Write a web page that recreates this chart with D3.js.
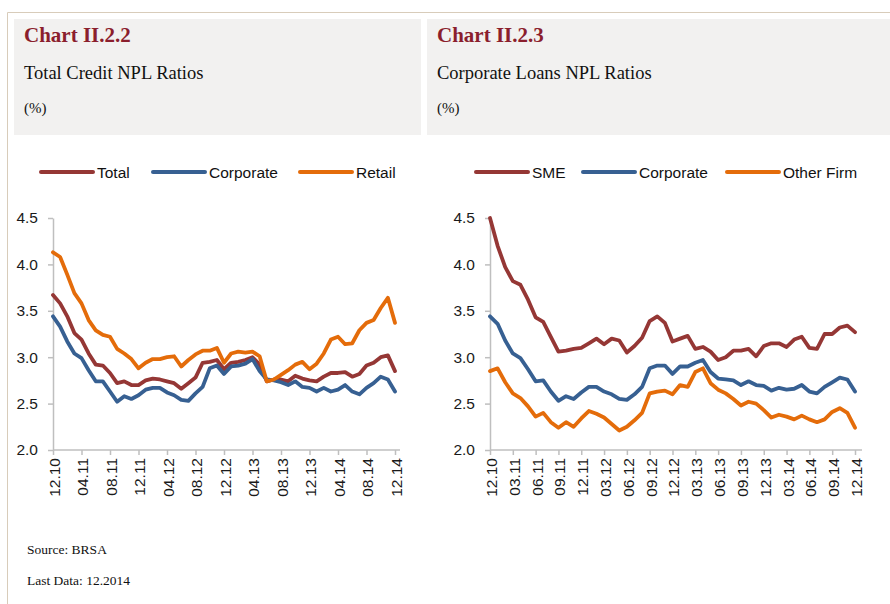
<!DOCTYPE html>
<html>
<head>
<meta charset="utf-8">
<script src="https://cdn.jsdelivr.net/npm/d3@7"></script>
<style>
  body { margin: 0; background: #fff; }
  svg { display: block; }
  .axis text { font-family: "Liberation Sans", Arial, sans-serif; font-size: 15.5px; fill: #1a1a1a; }
  .axis path, .axis line { stroke: #bfbfbf; stroke-width: 1.5px; }
</style>
</head>
<body>
<div id="chart"></div>
<script>
// monthly categories 12.2010 - 12.2014
const months = [
  '12.10',
  '01.11','02.11','03.11','04.11','05.11','06.11','07.11','08.11','09.11','10.11','11.11','12.11',
  '01.12','02.12','03.12','04.12','05.12','06.12','07.12','08.12','09.12','10.12','11.12','12.12',
  '01.13','02.13','03.13','04.13','05.13','06.13','07.13','08.13','09.13','10.13','11.13','12.13',
  '01.14','02.14','03.14','04.14','05.14','06.14','07.14','08.14','09.14','10.14','11.14','12.14'
];

const ticksLeft = ['12.10','04.11','08.11','12.11','04.12','08.12','12.12','04.13','08.13','12.13','04.14','08.14','12.14'];
const ticksRight = ['12.10','03.11','06.11','09.11','12.11','03.12','06.12','09.12','12.12','03.13','06.13','09.13','12.13','03.14','06.14','09.14','12.14'];
const yTicks = [2.0, 2.5, 3.0, 3.5, 4.0, 4.5];

// Chart II.2.2 - Total credit NPL ratios (%)
const totalNpl = [3.67,3.58,3.44,3.26,3.19,3.04,2.92,2.91,2.83,2.72,2.74,2.70,2.70,2.75,2.77,2.76,2.74,2.72,2.66,2.72,2.78,2.94,2.95,2.97,2.87,2.94,2.95,2.97,3.00,2.92,2.74,2.76,2.76,2.74,2.80,2.77,2.75,2.74,2.79,2.83,2.83,2.84,2.79,2.82,2.91,2.94,3.00,3.02,2.85];
const corporateNpl = [3.44,3.33,3.17,3.04,2.99,2.86,2.74,2.74,2.63,2.52,2.58,2.55,2.59,2.65,2.67,2.67,2.62,2.59,2.54,2.53,2.61,2.68,2.88,2.91,2.82,2.90,2.91,2.93,2.98,2.85,2.76,2.75,2.73,2.70,2.74,2.68,2.67,2.63,2.67,2.63,2.65,2.70,2.63,2.60,2.67,2.72,2.79,2.76,2.63];
const retailNpl = [4.13,4.08,3.89,3.69,3.58,3.40,3.29,3.24,3.22,3.09,3.04,2.98,2.88,2.94,2.98,2.98,3.00,3.01,2.90,2.97,3.03,3.07,3.07,3.10,2.94,3.04,3.06,3.05,3.06,3.01,2.74,2.76,2.81,2.86,2.92,2.95,2.87,2.93,3.04,3.19,3.22,3.14,3.15,3.29,3.37,3.40,3.53,3.64,3.37];

// Chart II.2.3 - Corporate loans NPL ratios (%)
const smeNpl = [4.50,4.20,3.97,3.82,3.78,3.62,3.43,3.38,3.22,3.06,3.07,3.09,3.10,3.15,3.20,3.14,3.20,3.18,3.05,3.12,3.21,3.39,3.44,3.37,3.17,3.20,3.23,3.09,3.11,3.06,2.97,3.00,3.07,3.07,3.09,3.01,3.12,3.15,3.15,3.11,3.19,3.22,3.10,3.09,3.25,3.25,3.32,3.34,3.27];
const corpLoansNpl = [3.44,3.36,3.18,3.04,2.99,2.87,2.74,2.75,2.63,2.53,2.58,2.55,2.62,2.68,2.68,2.63,2.60,2.55,2.54,2.60,2.68,2.88,2.91,2.91,2.82,2.90,2.90,2.94,2.97,2.84,2.77,2.76,2.75,2.70,2.74,2.70,2.69,2.64,2.67,2.65,2.66,2.70,2.63,2.61,2.68,2.73,2.78,2.76,2.63];
const otherFirmNpl = [2.85,2.88,2.73,2.61,2.56,2.47,2.36,2.40,2.30,2.24,2.30,2.25,2.34,2.42,2.39,2.35,2.28,2.21,2.25,2.32,2.40,2.61,2.63,2.64,2.60,2.70,2.68,2.84,2.88,2.72,2.65,2.61,2.55,2.48,2.52,2.50,2.43,2.35,2.38,2.36,2.33,2.37,2.33,2.30,2.33,2.41,2.45,2.40,2.24];

const red = '#953735';
const blue = '#376092';
const orange = '#e46c0a';

const width = 890;
const height = 604;

const svg = d3.select('#chart')
  .append('svg')
  .attr('width', width)
  .attr('height', height);

// page frame
svg.append('line')
  .attr('x1', 7.5).attr('y1', 12.5).attr('x2', width).attr('y2', 12.5)
  .attr('stroke', '#d8ccba').attr('stroke-width', 1);
svg.append('line')
  .attr('x1', 7.5).attr('y1', 12.5).attr('x2', 7.5).attr('y2', height)
  .attr('stroke', '#d8ccba').attr('stroke-width', 1);

const drawHeader = (x, w, title, subtitle) => {
  svg.append('rect')
    .attr('x', x).attr('y', 19)
    .attr('width', w).attr('height', 116)
    .attr('fill', '#f2f1f0');

  svg.append('text')
    .attr('x', x + 10).attr('y', 42)
    .attr('font-family', '"Liberation Serif", "Times New Roman", serif')
    .attr('font-weight', 'bold')
    .attr('font-size', 21)
    .attr('fill', '#8b1e2d')
    .text(title);

  svg.append('text')
    .attr('x', x + 10).attr('y', 79)
    .attr('font-family', '"Liberation Serif", "Times New Roman", serif')
    .attr('font-size', 18.5)
    .attr('fill', '#111')
    .text(subtitle);

  svg.append('text')
    .attr('x', x + 10).attr('y', 113)
    .attr('font-family', '"Liberation Serif", "Times New Roman", serif')
    .attr('font-size', 15)
    .attr('fill', '#111')
    .text('(%)');
};

drawHeader(14, 407, 'Chart II.2.2', 'Total Credit NPL Ratios');
drawHeader(427, 463, 'Chart II.2.3', 'Corporate Loans NPL Ratios');

const drawPanel = (cfg) => {
  const x = d3.scalePoint()
    .domain(months)
    .range([cfg.x0, cfg.x1]);

  const y = d3.scaleLinear()
    .domain([2.0, 4.5])
    .range([450, 218]);

  const g = svg.append('g');

  // y axis
  g.append('g')
    .attr('class', 'axis')
    .attr('transform', `translate(${cfg.x0},0)`)
    .call(d3.axisLeft(y)
      .tickValues(yTicks)
      .tickFormat(d3.format('.1f'))
      .tickSize(5)
      .tickSizeOuter(0)
      .tickPadding(10));

  // x axis
  const xAxis = g.append('g')
    .attr('class', 'axis')
    .attr('transform', `translate(0,${y(2.0)})`)
    .call(d3.axisBottom(x)
      .tickValues(cfg.ticks)
      .tickSize(5)
      .tickSizeOuter(0));

  xAxis.select('.domain').remove();
  xAxis.insert('line', ':first-child')
    .attr('x1', cfg.x0).attr('x2', cfg.axisEnd)
    .attr('y1', 0).attr('y2', 0)
    .attr('stroke', '#bfbfbf')
    .attr('stroke-width', 1.5);

  xAxis.selectAll('.tick text')
    .attr('transform', 'rotate(-90)')
    .attr('x', -8)
    .attr('y', 1)
    .attr('dy', '0.35em')
    .attr('text-anchor', 'end');

  const line = d3.line()
    .x((d, i) => x(months[i]))
    .y(d => y(d));

  cfg.series.forEach(s => {
    g.append('path')
      .datum(s.values)
      .attr('fill', 'none')
      .attr('stroke', s.color)
      .attr('stroke-width', 3.8)
      .attr('stroke-linejoin', 'round')
      .attr('stroke-linecap', 'round')
      .attr('d', line);
  });

  // legend
  cfg.series.forEach((s, i) => {
    const lx = cfg.legendX[i];
    g.append('line')
      .attr('x1', lx).attr('x2', lx + 52)
      .attr('y1', 172).attr('y2', 172)
      .attr('stroke', s.color)
      .attr('stroke-width', 4)
      .attr('stroke-linecap', 'round');
    g.append('text')
      .attr('x', lx + 56)
      .attr('y', 177.5)
      .attr('font-family', '"Liberation Sans", Arial, sans-serif')
      .attr('font-size', 15.5)
      .attr('fill', '#111')
      .text(s.name);
  });
};

drawPanel({
  x0: 53,
  x1: 395,
  axisEnd: 400,
  ticks: ticksLeft,
  legendX: [41, 153, 300],
  series: [
    { name: 'Total', values: totalNpl, color: red },
    { name: 'Corporate', values: corporateNpl, color: blue },
    { name: 'Retail', values: retailNpl, color: orange }
  ]
});

drawPanel({
  x0: 490,
  x1: 855,
  axisEnd: 862,
  ticks: ticksRight,
  legendX: [476, 583, 727],
  series: [
    { name: 'SME', values: smeNpl, color: red },
    { name: 'Corporate', values: corpLoansNpl, color: blue },
    { name: 'Other Firm', values: otherFirmNpl, color: orange }
  ]
});

// footer notes
svg.append('text')
  .attr('x', 27).attr('y', 554)
  .attr('font-family', '"Liberation Serif", "Times New Roman", serif')
  .attr('font-size', 13.5)
  .attr('fill', '#111')
  .text('Source: BRSA');

svg.append('text')
  .attr('x', 27).attr('y', 585)
  .attr('font-family', '"Liberation Serif", "Times New Roman", serif')
  .attr('font-size', 13.5)
  .attr('fill', '#111')
  .text('Last Data: 12.2014');
</script>
</body>
</html>
